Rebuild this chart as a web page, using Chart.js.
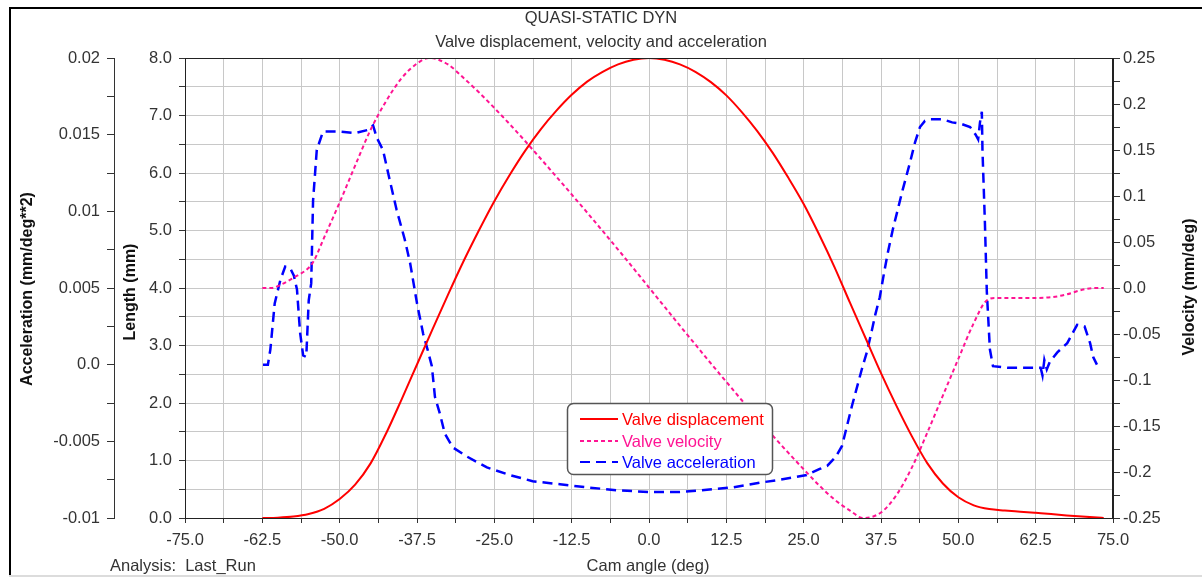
<!DOCTYPE html>
<html>
<head>
<meta charset="utf-8">
<script src="https://cdn.jsdelivr.net/npm/chart.js@4.4.1/dist/chart.umd.min.js"></script>
<style>
body { margin: 0; background: #fff; }
canvas { display: block; }
</style>
</head>
<body>
<canvas id="grafico" width="1202" height="577"></canvas>
<script>
// dados (angulo do came em graus)
let anguloDeslocamento = [-62.5, -60, -57.5, -55, -52.5, -50, -47.5, -45, -42.5, -40, -37.5, -35, -32.5, -30, -27.5, -25, -22.5, -20, -17.5, -15, -12.5, -10, -7.5, -5, -2.5, 0,
    2.5, 5, 7.5, 10, 12.5, 15, 17.5, 20, 22.5, 25, 27.5, 30, 32.5, 35, 37.5, 40, 42.5, 45, 47.5, 50, 52.5, 55, 57.5, 60, 62.5, 65, 67.5, 70, 72.5, 73.5];
let deslocamento = [0, 0.006, 0.025, 0.07, 0.16, 0.33, 0.58, 0.95, 1.47, 2.06, 2.67, 3.28, 3.88, 4.46, 5.0, 5.51, 5.97, 6.39, 6.76, 7.08, 7.36, 7.59, 7.76, 7.89, 7.97, 8.0,
    7.97, 7.89, 7.76, 7.58, 7.35, 7.06, 6.73, 6.35, 5.92, 5.46, 4.93, 4.36, 3.74, 3.13, 2.52, 1.95, 1.42, 0.95, 0.6, 0.36, 0.22, 0.155, 0.13, 0.11, 0.09, 0.07, 0.045, 0.025, 0.008, 0];

let anguloVelocidade = [-62.5, -61, -60, -57.5, -55, -54.3, -52.5, -50, -47.5, -45, -42.5, -40, -37.5, -35.5, -32.5, -30, -27.5, -25, -22.5, -20, -17.5, -15, -12.5, -10, -7.5, -5, -2.5, 0,
    2.5, 5, 7.5, 10, 12.5, 15, 17.5, 20, 22.5, 25, 27.5, 30, 32.5, 34.6, 37.5, 40, 42.5, 45, 47.5, 50, 52.5, 54.5, 56, 60, 65, 67.5, 70, 72, 73.5];
let velocidade = [0, 0, 0.002, 0.011, 0.022, 0.028, 0.055, 0.093, 0.133, 0.172, 0.203, 0.228, 0.244, 0.25, 0.243, 0.2285, 0.2127, 0.1957, 0.178, 0.1595, 0.1405, 0.1212, 0.1017, 0.082, 0.062, 0.0418, 0.0213, 0.0005,
    -0.0203, -0.041, -0.0615, -0.082, -0.102, -0.122, -0.1415, -0.1605, -0.179, -0.197, -0.2145, -0.23, -0.242, -0.25, -0.244, -0.225, -0.195, -0.157, -0.117, -0.077, -0.038, -0.014, -0.011, -0.011, -0.01, -0.007, -0.002, 0, 0];

let anguloAceleracao = [-62.4, -61.6, -61.2, -60.5, -59.6, -58.8, -58, -57.4, -56.9, -56.4, -55.9, -55.4, -55, -54.6, -54.3, -53.7, -52.7, -50, -47.5, -45.5, -44.6, -44, -43, -42, -40.8, -39.5, -38.6, -37.5, -36.5, -35.8, -35.1,
    -34.6, -33.8, -33, -31.7, -29.4, -26.2, -22.5, -18.8, -14.4, -10, -5, 0, 5, 8.2, 13.6, 17.9, 21.2, 25.5, 27.6, 28.8, 30.2, 31.2, 32, 32.8, 33.6, 34.4, 35.2, 36, 36.6, 37.3, 38, 38.6, 39.4, 40.2, 41, 42.2, 43, 43.8,
    44.6, 45.4, 47.5, 49, 50.5, 51.9, 52.8, 53.2, 53.5, 53.8, 53.9, 54.3, 54.6, 55.1, 55.6, 58, 61, 63.3, 63.6, 63.9, 64.3, 64.8, 66, 67.6, 69.2, 70.4, 71.3, 71.8, 72.4];
let aceleracao = [0, 0, 0.001, 0.004, 0.0055, 0.0064, 0.0063, 0.0058, 0.0049, 0.0021, 0.0006, 0.0005, 0.0042, 0.0053, 0.0107, 0.014, 0.0152, 0.0152, 0.0151, 0.0153, 0.0156, 0.0148, 0.014, 0.0122, 0.0101, 0.0082, 0.0066, 0.004, 0.002, 0.001, -0.0001,
    -0.0021, -0.0032, -0.0045, -0.0054, -0.006, -0.0067, -0.0072, -0.0076, -0.0078, -0.008, -0.0082, -0.0083, -0.0083, -0.0082, -0.008, -0.0077, -0.0075, -0.0072, -0.0068, -0.0066, -0.006, -0.0053, -0.004, -0.0027, -0.0015, -0.0003, 0.0008, 0.0022, 0.0033, 0.0044, 0.006, 0.0073, 0.0088, 0.0101, 0.0114, 0.0132, 0.0145, 0.0155,
    0.0159, 0.016, 0.016, 0.0158, 0.0157, 0.0155, 0.015, 0.0147, 0.0158, 0.0165, 0.014, 0.0092, 0.0048, 0.001, -0.0001, -0.0002, -0.0002, -0.0002, -0.0007, 0.0003, -0.0003, 0.0002, 0.0008, 0.0014, 0.0026, 0.0025, 0.0014, 0.0005, 0];

let titulos = ['QUASI-STATIC DYN', 'Valve displacement, velocity and acceleration'];
let fonte = '"Liberation Sans", Arial, sans-serif';

function pontos(xs, ys) {
    return xs.map((x, i) => ({ x: x, y: ys[i] }));
}

function multiplo(valor, passo) {
    let n = valor / passo;
    return Math.abs(n - Math.round(n)) < 1e-6;
}

function rotuloCurto(valor, passo) {
    if (!multiplo(valor, passo)) return '';
    if (Math.abs(valor) < 1e-9) return '0.0';
    return parseFloat(valor.toFixed(4)).toString();
}

const decoracao = {
    id: 'decoracao',
    afterDraw(chart) {
        const ctx = chart.ctx;
        const a = chart.chartArea;
        ctx.save();

        // moldura externa
        ctx.fillStyle = '#000';
        ctx.fillRect(9, 7, 2, 570);
        ctx.fillRect(9, 7, 1193, 2);
        ctx.fillStyle = '#dcdcdc';
        ctx.fillRect(9, 575, 1193, 2);

        // caixa da area do grafico
        ctx.strokeStyle = '#222';
        ctx.lineWidth = 1;
        ctx.strokeRect(Math.round(a.left) + 0.5, Math.round(a.top) + 0.5, Math.round(a.right - a.left) - 1, Math.round(a.bottom - a.top));

        // titulos dos eixos
        ctx.fillStyle = '#111';
        ctx.font = 'bold 16px ' + fonte;
        ctx.textAlign = 'center';
        ctx.textBaseline = 'middle';
        [['Acceleration (mm/deg**2)', 28, 289], ['Length (mm)', 131, 292], ['Velocity (mm/deg)', 1190, 287]].forEach(t => {
            ctx.save();
            ctx.translate(t[1], t[2]);
            ctx.rotate(-Math.PI / 2);
            ctx.fillText(t[0], 0, 0);
            ctx.restore();
        });

        ctx.fillStyle = '#333';
        ctx.font = '16.5px ' + fonte;
        ctx.fillText('Cam angle (deg)', 648, 566);
        ctx.textAlign = 'left';
        ctx.fillText('Analysis:  Last_Run', 110, 566);

        // legenda
        ctx.beginPath();
        ctx.roundRect(567.5, 403.5, 205, 71, 6);
        ctx.fillStyle = '#fff';
        ctx.fill();
        ctx.strokeStyle = '#555';
        ctx.lineWidth = 1.5;
        ctx.stroke();

        const linhas = [419, 441, 462];
        chart.data.datasets.forEach((ds, i) => {
            ctx.beginPath();
            ctx.setLineDash(ds.borderDash || []);
            ctx.strokeStyle = ds.borderColor;
            ctx.lineWidth = 2;
            ctx.moveTo(580, linhas[i]);
            ctx.lineTo(618, linhas[i]);
            ctx.stroke();
            ctx.setLineDash([]);
            ctx.fillStyle = ds.borderColor;
            ctx.font = '16.5px ' + fonte;
            ctx.fillText(ds.label, 622, linhas[i] + 1);
        });
        ctx.restore();
    }
};

const ctx = document.getElementById('grafico').getContext('2d');
new Chart(ctx, {
    type: 'line',
    data: {
        datasets: [{
            label: 'Valve displacement',
            data: pontos(anguloDeslocamento, deslocamento),
            yAxisID: 'y',
            borderColor: '#ff0000',
            borderWidth: 2,
            cubicInterpolationMode: 'monotone'
        }, {
            label: 'Valve velocity',
            data: pontos(anguloVelocidade, velocidade),
            yAxisID: 'yVel',
            borderColor: '#ff1493',
            borderWidth: 2,
            borderDash: [4, 3],
            cubicInterpolationMode: 'monotone'
        }, {
            label: 'Valve acceleration',
            data: pontos(anguloAceleracao, aceleracao),
            yAxisID: 'yAcc',
            borderColor: '#0000ff',
            borderWidth: 2.5,
            borderDash: [10, 6]
        }]
    },
    options: {
        responsive: false,
        animation: false,
        elements: { point: { radius: 0 } },
        layout: { padding: 0 },
        plugins: {
            legend: { display: false },
            tooltip: { enabled: false },
            title: {
                display: true,
                text: titulos,
                color: '#333',
                font: { family: fonte, size: 16.5, weight: 'normal', lineHeight: 1.5 },
                padding: { top: 5.6, bottom: 2.9 }
            }
        },
        scales: {
            x: {
                type: 'linear',
                min: -75,
                max: 75,
                afterFit(scale) { scale.height = 59; },
                grid: { color: '#c8c8c8', tickColor: '#333', tickLength: 5 },
                border: { color: '#222' },
                ticks: {
                    stepSize: 6.25,
                    autoSkip: false,
                    maxRotation: 0,
                    padding: 8,
                    color: '#333',
                    font: { family: fonte, size: 16.5 },
                    callback: v => multiplo(v, 12.5) ? v.toFixed(1) : ''
                }
            },
            yAcc: {
                type: 'linear',
                position: 'left',
                weight: 1,
                min: -0.01,
                max: 0.02,
                afterFit(scale) { scale.width = 114; },
                grid: { drawOnChartArea: false, tickColor: '#333', tickLength: 7 },
                border: { color: '#333' },
                ticks: {
                    stepSize: 0.0025,
                    maxTicksLimit: 100,
                    autoSkip: false,
                    padding: 7,
                    color: '#333',
                    font: { family: fonte, size: 16.5 },
                    callback: v => rotuloCurto(v, 0.005)
                }
            },
            y: {
                type: 'linear',
                position: 'left',
                weight: 0,
                min: 0,
                max: 8,
                afterFit(scale) { scale.width = 71; },
                grid: { color: '#c8c8c8', tickColor: '#333', tickLength: 6 },
                border: { color: '#222' },
                ticks: {
                    stepSize: 0.5,
                    maxTicksLimit: 100,
                    autoSkip: false,
                    padding: 7,
                    color: '#333',
                    font: { family: fonte, size: 16.5 },
                    callback: v => multiplo(v, 1) ? v.toFixed(1) : ''
                }
            },
            yVel: {
                type: 'linear',
                position: 'right',
                min: -0.25,
                max: 0.25,
                afterFit(scale) { scale.width = 89; },
                grid: { drawOnChartArea: false, tickColor: '#333', tickLength: 7 },
                border: { color: '#222' },
                ticks: {
                    stepSize: 0.025,
                    maxTicksLimit: 100,
                    autoSkip: false,
                    padding: 3,
                    color: '#333',
                    font: { family: fonte, size: 16.5 },
                    callback: v => rotuloCurto(v, 0.05)
                }
            }
        }
    },
    plugins: [decoracao]
});
</script>
</body>
</html>
